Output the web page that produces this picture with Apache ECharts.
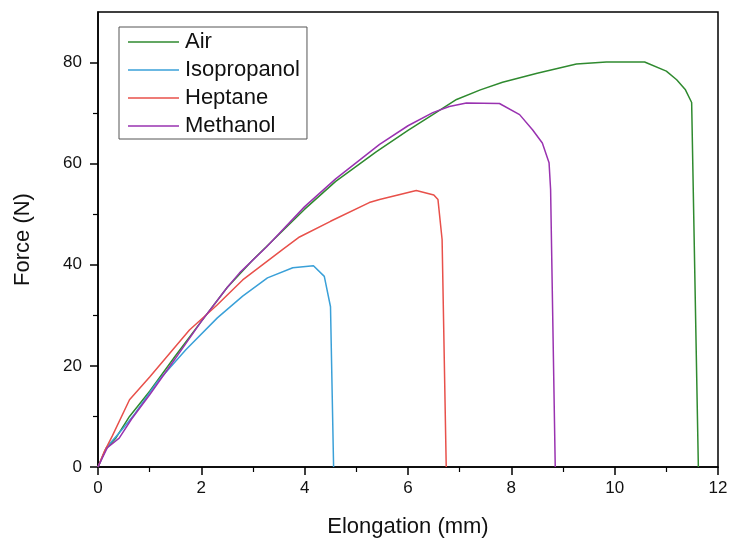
<!DOCTYPE html>
<html>
<head>
<meta charset="utf-8">
<script src="https://cdn.jsdelivr.net/npm/echarts@6/dist/echarts.min.js"></script>
<style>
  html, body { margin: 0; padding: 0; background: #fff; }
  #chart { width: 729px; height: 538px; }
</style>
</head>
<body>
<div id="chart"></div>
<script>
// elongation (mm), force (N) pairs
const airData = [
  [0, 0], [0.15, 3.5], [0.35, 5.8], [0.61, 10], [1, 15], [1.5, 22], [2, 28.8],
  [2.5, 35.5], [3, 41], [3.5, 46], [4, 51], [4.6, 56.5], [5.39, 62.4], [6, 66.6],
  [6.48, 69.7], [6.94, 72.7], [7.4, 74.6], [7.83, 76.1], [8.5, 77.9], [9.26, 79.7],
  [9.84, 80.1], [10.58, 80.1], [11.0, 78.3], [11.2, 76.6], [11.37, 74.6], [11.49, 72.1],
  [11.62, 0]
];
const isopropanolData = [
  [0, 0], [0.16, 3.8], [0.45, 7.2], [0.71, 10.5], [1.13, 16.6], [1.7, 23.2], [2.31, 29.5],
  [2.8, 33.8], [3.28, 37.4], [3.77, 39.4], [4.17, 39.8], [4.38, 37.7], [4.5, 31.7],
  [4.56, 0]
];
const heptaneData = [
  [0, 0], [0.12, 3], [0.28, 6.2], [0.61, 13.3], [1.0, 17.8], [1.77, 27.1], [2.3, 32],
  [2.8, 37.0], [3.57, 43.0], [3.9, 45.5], [4.5, 48.6], [5.25, 52.3], [5.45, 52.9],
  [6.16, 54.7], [6.5, 53.8], [6.58, 52.9], [6.66, 45], [6.74, 0]
];
const methanolData = [
  [0, 0], [0.18, 3.8], [0.41, 5.7], [0.65, 9.5], [1, 14.3], [1.5, 21.5], [2, 28.8],
  [2.5, 35.5], [2.74, 38.4], [3.26, 43.5], [4, 51.5], [4.6, 57], [5.45, 63.8], [6, 67.5],
  [6.48, 70.1], [6.8, 71.3], [7.13, 72.0], [7.77, 71.9], [8.16, 69.7], [8.41, 66.7],
  [8.6, 64.1], [8.73, 60.2], [8.76, 54.9], [8.85, 0]
];
const seriesNames = ['Air', 'Isopropanol', 'Heptane', 'Methanol'];
const seriesColors = ['#2f8a2f', '#3aa0d8', '#e8504a', '#9932b0'];
const yMajorTicks = [0, 20, 40, 60, 80];
const yMinorTicks = [10, 30, 50, 70];

const font = "'Liberation Sans', Arial, sans-serif";
const chart = echarts.init(document.getElementById('chart'));

const makeSeries = (name, data, i) => ({
  name,
  type: 'line',
  data,
  symbol: 'none',
  xAxisIndex: 0,
  yAxisIndex: 0,
  lineStyle: { color: seriesColors[i], width: 1.5 },
  itemStyle: { color: seriesColors[i] },
  z: 3
});

chart.setOption({
  animation: false,
  backgroundColor: '#fff',
  grid: {
    left: 98, right: 11, top: 12, bottom: 71,
    outerBoundsMode: 'none',
    containLabel: false,
    show: true, borderColor: '#000', borderWidth: 1.5
  },
  legend: {
    orient: 'vertical',
    left: 119,
    top: 27,
    padding: [4, 7, 2, 9],
    itemGap: 6,
    itemWidth: 51,
    itemHeight: 1.5,
    icon: 'rect',
    borderColor: '#555',
    borderWidth: 1,
    backgroundColor: '#fff',
    textStyle: { fontFamily: font, fontSize: 22, lineHeight: 22, color: '#111', padding: [0, 0, 0, 1] },
    data: seriesNames
  },
  xAxis: {
    type: 'value',
    min: 0,
    max: 12,
    interval: 2,
    name: 'Elongation (mm)',
    nameLocation: 'middle',
    nameGap: 49,
    nameTextStyle: { fontFamily: font, fontSize: 22, color: '#111' },
    axisLine: { onZero: false, lineStyle: { color: '#000', width: 1.5 } },
    axisTick: { length: 8, lineStyle: { color: '#000', width: 1.5 } },
    minorTick: { show: true, splitNumber: 2, length: 5, lineStyle: { color: '#000', width: 1.2 } },
    axisLabel: { fontFamily: font, fontSize: 17, color: '#111', margin: 13 },
    splitLine: { show: false }
  },
  yAxis: [{
    type: 'value',
    min: 0,
    max: 90,
    interval: 10,
    name: 'Force (N)',
    nameLocation: 'middle',
    nameGap: 64,
    nameTextStyle: { fontFamily: font, fontSize: 22, color: '#111' },
    axisLine: { onZero: false, lineStyle: { color: '#000', width: 1.5 } },
    axisTick: { length: 8, customValues: yMajorTicks, lineStyle: { color: '#000', width: 1.5 } },
    axisLabel: {
      fontFamily: font, fontSize: 17, color: '#111', margin: 16,
      customValues: yMajorTicks
    },
    splitLine: { show: false }
  }, {
    type: 'value',
    min: 0,
    max: 90,
    interval: 10,
    position: 'left',
    axisLine: { show: false },
    axisTick: { length: 5, customValues: yMinorTicks, lineStyle: { color: '#000', width: 1.2 } },
    axisLabel: { show: false },
    splitLine: { show: false }
  }],
  series: [
    makeSeries('Air', airData, 0),
    makeSeries('Isopropanol', isopropanolData, 1),
    makeSeries('Heptane', heptaneData, 2),
    makeSeries('Methanol', methanolData, 3)
  ]
});
</script>
</body>
</html>
